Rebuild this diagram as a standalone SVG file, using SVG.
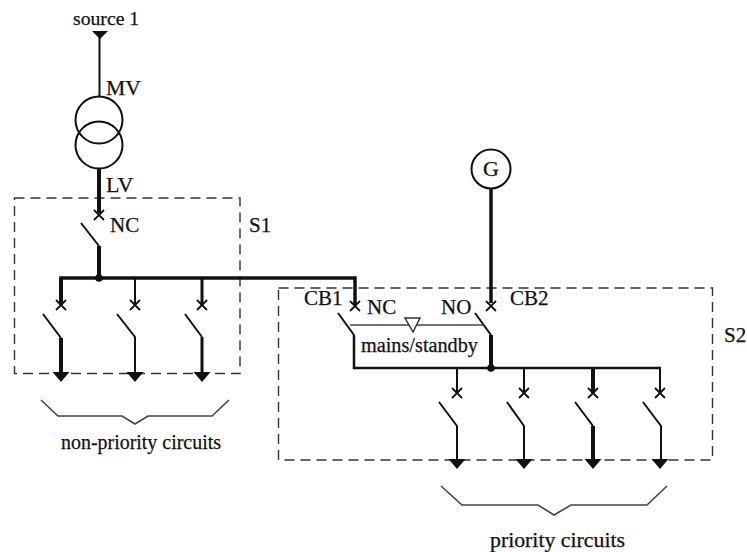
<svg xmlns="http://www.w3.org/2000/svg" width="747" height="552" viewBox="0 0 747 552">
<style>
text{font-family:"Liberation Serif","Times New Roman",serif;fill:#111;stroke:#111;stroke-width:.25;font-size:21px}
.w{fill:none;stroke:#111;stroke-linecap:butt;stroke-linejoin:miter}
.t1{stroke-width:2}.t2{stroke-width:3}.t3{stroke-width:4}
.d{fill:none;stroke:#333;stroke-width:1.4;stroke-dasharray:10 6}
.b{fill:none;stroke:#444;stroke-width:1.6}
.x{fill:none;stroke:#111;stroke-width:1.8}
.f{fill:#111}
</style>
<defs>
<path id="cross" class="x" d="M-5-5L5 5M-5 5L5-5"/>
<path id="arrow" class="f" d="M-8.500-1H8.500L0 9Z"/>
</defs>
<g id="S1"><rect class="d" x="14.500" y="198" width="225.500" height="175.500"/><text x="249" y="232">S1</text></g>
<g id="S2"><rect class="d" x="278.500" y="288" width="434" height="172"/><text x="724" y="342">S2</text></g>
<g id="connectors">
<path class="w t1" d="M99.500 33V97"/>
<path class="w t3" d="M99 169V213"/>
<path class="w t1" d="M81 223L99 246"/>
<path class="w t3" d="M99 246V278"/>
<path class="w" stroke-width="3.500" d="M61 305V278H355V305"/>
<path class="w t3" d="M61 278V305M61 338V373"/>
<path class="w t1" d="M43 314L61 338"/>
<path class="w t1" d="M135 278V305M117 314L135 337V373"/>
<path class="w t1" d="M185 314L202 337"/>
<path class="w t2" d="M202 278V305M202 337V373"/>
<path class="w" stroke-width="3.500" d="M491 189V303"/>
<path class="w t1" d="M338 313L354 335"/>
<path class="w t1" d="M475 313L491 335"/>
<path class="w t3" d="M491 335V368"/>
<path class="w" stroke-width="2.500" d="M354 335V368H661"/>
<path class="b" d="M350 325H484"/>
<path class="w t1" d="M457 368V393M439 402L457 426V460"/>
<path class="w t1" d="M524 368V393M507 402L524 426V460"/>
<path class="w t3" d="M593 368V393M593 426V460"/>
<path class="w t1" d="M575 402L593 426"/>
<path class="w t1" d="M660 368V393M643 402L661 426V460"/>
</g>
<g id="source1"><text x="73" y="25" style="font-size:19.700px">source 1</text><path class="f" d="M92 31H108L100 39Z"/></g>
<g id="transformer"><circle class="w t1" cx="99" cy="120" r="23.500"/><circle class="w t1" cx="99" cy="145" r="23.500"/><text x="106" y="95" style="font-size:21.700px">MV</text><text x="106" y="192" style="font-size:22px">LV</text></g>
<g id="incomer"><use href="#cross" x="99" y="215"/><text x="110" y="232">NC</text><circle class="f" cx="99" cy="278" r="3.800"/></g>
<g id="np1"><use href="#cross" x="61" y="305"/><use href="#arrow" x="61" y="373"/></g>
<g id="np2"><use href="#cross" x="135" y="305"/><use href="#arrow" x="135" y="373"/></g>
<g id="np3"><use href="#cross" x="202" y="305"/><use href="#arrow" x="202" y="373"/></g>
<g id="np-label"><path class="b" d="M41 400L58 416H122L135 424L148 416H212L229 400"/><text x="61" y="449" textLength="160" lengthAdjust="spacingAndGlyphs" style="font-size:20px">non-priority circuits</text></g>
<g id="generator"><circle cx="491" cy="169" r="19.500" fill="#fff" stroke="#111" stroke-width="2"/><text x="491" y="176" text-anchor="middle" style="font-size:22px">G</text></g>
<g id="CB1"><use href="#cross" x="355" y="306"/><text x="304" y="305">CB1</text><text x="367" y="314">NC</text></g>
<g id="CB2"><use href="#cross" x="491" y="306"/><text x="510" y="305">CB2</text><text x="441" y="314">NO</text></g>
<g id="mains-standby"><path fill="#fff" stroke="#333" stroke-width="1.500" d="M405 318H420L413 332Z"/><text x="361" y="352" textLength="117" lengthAdjust="spacingAndGlyphs" style="font-size:20px">mains/standby</text><circle class="f" cx="491" cy="368" r="3.800"/></g>
<g id="p1"><use href="#cross" x="457" y="393"/><use href="#arrow" x="457" y="460"/></g>
<g id="p2"><use href="#cross" x="524" y="393"/><use href="#arrow" x="524" y="460"/></g>
<g id="p3"><use href="#cross" x="593" y="393"/><use href="#arrow" x="593" y="460"/></g>
<g id="p4"><use href="#cross" x="660" y="393"/><use href="#arrow" x="660" y="460"/></g>
<g id="p-label"><path class="b" d="M441 486L462 505H538L554 515L571 505H647L667 486"/><text x="490" y="547" textLength="135" lengthAdjust="spacingAndGlyphs" style="font-size:20px">priority circuits</text></g>
</svg>
